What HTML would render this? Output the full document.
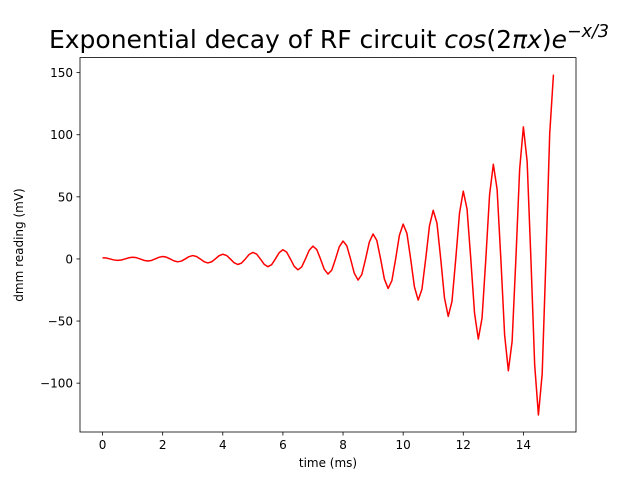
<!DOCTYPE html>
<html><head><meta charset="utf-8"><style>
body{margin:0;background:#fff}
svg{display:block;font-family:"DejaVu Sans","Liberation Sans",sans-serif}
</style></head><body>
<svg id="c" width="640" height="480">
<rect width="640" height="480" fill="#fff"/>
<text x="329" y="48" text-anchor="middle" font-size="25">Exponential decay of RF circuit <tspan font-style="italic">cos</tspan>(2<tspan font-style="italic">πx</tspan>)<tspan font-style="italic">e</tspan><tspan font-size="17.5" dy="-11" font-style="italic">−x/3</tspan></text>
<text x="328" y="467" text-anchor="middle" font-size="12">time (ms)</text>
<text x="23" y="245" text-anchor="middle" font-size="12" transform="rotate(-90 23 245)">dmm reading (mV)</text>
</svg>
<script>
const xStart = 0, xStep = 0.125;
const values = [
1,.74,0,-.80,-1.18,-.87,0,.95,
1.40,1.03,0,-1.12,-1.65,-1.22,0,1.32,
1.95,1.44,0,-1.56,-2.30,-1.70,0,1.84,
2.72,2.00,0,-2.18,-3.21,-2.37,0,2.57,
3.79,2.80,0,-3.04,-4.48,-3.30,0,3.59,
5.29,3.90,0,-4.24,-6.25,-4.61,0,5.01,
7.39,5.45,0,-5.92,-8.73,-6.44,0,6.99,
10.31,7.60,0,-8.26,-12.18,-8.98,0,9.76,
14.39,10.61,0,-11.53,-17.00,-12.53,0,13.62,
20.09,14.81,0,-16.09,-23.73,-17.49,0,19.01,
28.03,20.66,0,-22.46,-33.12,-24.41,0,26.54,
39.12,28.84,0,-31.34,-46.22,-34.07,0,37.03,
54.60,40.24,0,-43.74,-64.50,-47.55,0,51.68,
76.20,56.17,0,-61.05,-90.02,-66.36,0,72.13,
106.34,78.38,0,-85.20,-125.63,-92.61,0,100.66,
148.41];
const xTicks = [0,2,4,6,8,10,12,14];
const yTicks = [-100,-50,0,50,100,150];
const yTickLabels = ["−100","−50","0","50","100","150"];

const L=80,R=576,T=57.6,B=432;
const xs = values.map((v,i)=>xStart+i*xStep);
const xmin=Math.min(...xs), xmax=Math.max(...xs), ymin=Math.min(...values), ymax=Math.max(...values);
const xpad=(xmax-xmin)*0.05, ypad=(ymax-ymin)*0.05;
const X=x=>L+(x-(xmin-xpad))/((xmax+xpad)-(xmin-xpad))*(R-L);
const Y=y=>B-(y-(ymin-ypad))/((ymax+ypad)-(ymin-ypad))*(B-T);
const svg=document.getElementById('c');
const NS='http://www.w3.org/2000/svg';
function mk(t,a){const e=document.createElementNS(NS,t);for(const k in a)e.setAttribute(k,a[k]);svg.appendChild(e);return e;}
const line=mk('polyline',{points:values.map((v,i)=>X(xs[i]).toFixed(2)+','+Y(v).toFixed(2)).join(' '),fill:'none',stroke:'#ff0000','stroke-width':1.5,'stroke-linejoin':'round'});


xTicks.forEach(t=>{
  const tk=mk('line',{x1:X(t),x2:X(t),y1:B,y2:B+3.5,stroke:'#000','stroke-width':0.8});
  
  
  const tx=mk('text',{x:X(t),y:B+17,'text-anchor':'middle','font-size':12});
  tx.textContent=t;
  
  
});
yTicks.forEach((t,i)=>{
  const tk=mk('line',{x1:L-3.5,x2:L,y1:Y(t),y2:Y(t),stroke:'#000','stroke-width':0.8});
  
  
  const tx=mk('text',{x:L-7,y:Y(t)+4.5,'text-anchor':'end','font-size':12});
  tx.textContent=yTickLabels[i];
  
  
});
const fr=mk('rect',{x:L,y:T,width:R-L,height:B-T,fill:'none',stroke:'#000','stroke-width':0.8});


</script>
</body></html>
